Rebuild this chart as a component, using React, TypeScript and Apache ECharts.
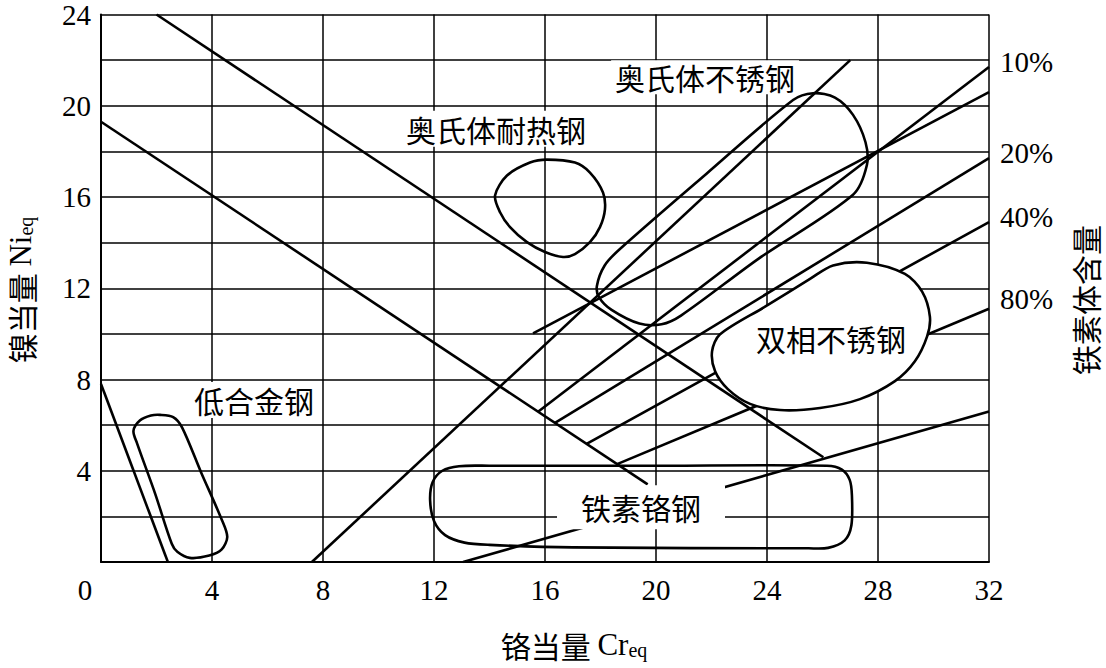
import React, { useEffect, useRef } from 'react';
import * as echarts from 'echarts';

// Axis ranges / ticks
const xMin = 0, xMax = 32, xStep = 4;
const yMin = 0, yMax = 24, yStep = 2;
const yLabelStep = 4;

// Boundary lines [Cr_eq, Ni_eq]
const lowAlloyLine = [[0, 7.8], [2.41, 0]];
const upperDiagonal = [[2, 24], [26.03, 4.59]];
const lowerDiagonal = [[0, 19.3], [19.7, 3.4]];
const ferrite0 = [[7.6, 0], [27, 22]];
const ferrite5 = [[15.57, 10.02], [32, 20.6]];
const ferrite10 = [[15.75, 6.59], [32, 21.7]];
const ferrite20 = [[16.36, 6.1], [32, 17.7]];
const ferrite40 = [[17.5, 5.18], [32, 14.9]];
const ferrite80 = [[18.6, 4.29], [32, 11.1]];
const ferrite100 = [[13.05, 0], [32, 6.6]];

const percentNames = ['10%', '20%', '40%', '80%'];

// Region outlines
const lowAlloyZone = [
  [2.13, 6.45], [2.6, 6.35], [2.92, 5.9], [3.6, 3.95], [4.36, 1.83], [4.55, 1.1], [4.35, 0.55],
  [3.9, 0.28], [3.2, 0.18], [2.75, 0.45], [2.55, 0.8], [1.95, 3.0], [1.3, 5.2], [1.17, 5.75],
  [1.4, 6.2], [1.8, 6.42],
];
const heatResistZone = [
  [14.2, 16.07], [14.63, 16.94], [15.46, 17.51], [16.07, 17.64], [17.08, 17.51], [17.62, 17.07],
  [18.09, 16.2], [18.16, 15.46], [17.98, 14.68], [17.62, 14.02], [17.08, 13.5], [16.65, 13.37],
  [16.0, 13.59], [15.35, 14.02], [14.74, 14.68], [14.38, 15.33],
];
const austeniticZone = [
  [17.87, 12.1], [18.15, 13.0], [18.7, 13.72], [21.8, 17.0], [24.94, 20.25], [25.66, 20.55],
  [26.45, 20.36], [27.1, 19.6], [27.55, 18.4], [27.6, 17.4], [27.1, 16.1], [23.7, 13.3],
  [20.9, 10.8], [20.2, 10.42], [19.4, 10.45], [18.4, 11.05], [17.95, 11.6],
];
const duplexZone = [
  [22.02, 9.23], [22.3, 9.97], [23.93, 11.19], [25.55, 12.41], [26.38, 13.0], [27.6, 13.12],
  [28.97, 12.63], [29.59, 11.85], [29.87, 10.76], [29.77, 9.89], [29.33, 8.8], [28.61, 7.93],
  [27.35, 7.14], [25.91, 6.75], [24.47, 6.66], [23.39, 6.93], [22.59, 7.58], [22.13, 8.36],
];
const ferriticZone = [
  [20, 4.22], [26.16, 4.22], [26.7, 4.05], [26.98, 3.6], [27.06, 2.92], [27.04, 1.6], [26.8, 0.95],
  [26.2, 0.62], [25.5, 0.6], [17.0, 0.64], [14.0, 0.75], [13.1, 0.85], [12.4, 1.18], [12.0, 1.8],
  [11.86, 2.7], [11.95, 3.5], [12.3, 4.0], [12.9, 4.2], [14, 4.22],
];

// Region labels
const regionNames = ['奥氏体耐热钢', '奥氏体不锈钢', '低合金钢', '双相不锈钢', '铁素铬钢'];
const regionX = [14.23, 21.77, 5.51, 26.31, 19.46];
const regionY = [18.99, 21.25, 7.1, 9.8, 2.4];

const SERIF = '"Liberation Serif", "Times New Roman", serif';
const CJK = '"Noto Sans CJK SC", sans-serif';
const LW = 2.6;

export default function App() {
  const ref = useRef<HTMLDivElement>(null);
  useEffect(() => {
    if (!ref.current) return;
    const chart = echarts.init(ref.current, undefined, { renderer: 'svg' });

    const line = (data: number[][], label?: string, offY = -5) => ({
      type: 'line',
      data,
      symbol: 'none',
      z: 2,
      silent: true,
      lineStyle: { color: '#000', width: LW },
      endLabel: label
        ? {
            show: true,
            formatter: () => label,
            distance: 11,
            offset: [0, offY],
            fontFamily: SERIF,
            fontSize: 29,
            color: '#000',
          }
        : { show: false },
    });

    const zone = (pts: number[][], fill: string, z: number) => ({
      type: 'custom',
      z,
      silent: true,
      data: [pts[0]],
      renderItem: (_p: any, api: any) => ({
        type: 'polygon',
        shape: { points: pts.map((q) => api.coord(q)), smooth: 0.3 },
        style: { fill, stroke: '#000', lineWidth: LW },
      }),
    });

    const pads: number[][] = [[3, 4], [2, 4], [3, 4], [3, 4], [7, 24]];
    const titleRich = {
      a: { fontFamily: CJK, fontSize: 30, lineHeight: 30, fill: '#000', verticalAlign: 'bottom' },
      b: { fontFamily: SERIF, fontSize: 31, lineHeight: 30, fill: '#000', verticalAlign: 'bottom' },
      c: { fontFamily: SERIF, fontSize: 20, lineHeight: 20, fill: '#000', verticalAlign: 'bottom' },
    };

    chart.setOption({
      animation: false,
      backgroundColor: '#fff',
      grid: { left: 101, right: 117, top: 11, bottom: 106, containLabel: false },
      xAxis: {
        type: 'value',
        min: xMin,
        max: xMax,
        interval: xStep,
        axisLine: { lineStyle: { color: '#000', width: 2 } },
        axisTick: { show: false },
        splitLine: { lineStyle: { color: '#000', width: 1.5 } },
        axisLabel: {
          color: '#000',
          fontFamily: SERIF,
          fontSize: 29,
          margin: 13,
          formatter: (v: number) => (v === 0 ? '{z|0}' : String(v)),
          rich: { z: { fontFamily: SERIF, fontSize: 29, color: '#000', padding: [0, 32, 0, 0] } },
        },
      },
      yAxis: {
        type: 'value',
        min: yMin,
        max: yMax,
        interval: yStep,
        axisLine: { lineStyle: { color: '#000', width: 2 } },
        axisTick: { show: false },
        splitLine: { lineStyle: { color: '#000', width: 1.5 } },
        axisLabel: {
          color: '#000',
          fontFamily: SERIF,
          fontSize: 29,
          margin: 10,
          formatter: (v: number) => (v !== 0 && v % yLabelStep === 0 ? String(v) : ''),
        },
      },
      graphic: [
        {
          type: 'text',
          x: 574,
          y: 645,
          style: {
            text: '{a|铬当量 }{b|Cr}{c|eq}',
            align: 'center',
            verticalAlign: 'middle',
            rich: titleRich,
          },
        },
        {
          type: 'text',
          x: 21,
          y: 290,
          rotation: Math.PI / 2,
          style: {
            text: '{a|镍当量 }{b|Ni}{c|eq}',
            align: 'center',
            verticalAlign: 'middle',
            rich: titleRich,
          },
        },
        {
          type: 'text',
          x: 1085,
          y: 300,
          rotation: Math.PI / 2,
          style: {
            text: '铁素体含量',
            fontFamily: CJK,
            fontSize: 30,
            lineHeight: 30,
            fill: '#000',
            align: 'center',
            verticalAlign: 'middle',
          },
        },
      ],
      series: [
        line(lowAlloyLine),
        line(upperDiagonal),
        line(lowerDiagonal),
        line(ferrite0),
        line(ferrite5),
        line(ferrite10, percentNames[0]),
        line(ferrite20, percentNames[1]),
        line(ferrite40, percentNames[2]),
        line(ferrite80, percentNames[3], -10),
        line(ferrite100),
        zone(lowAlloyZone, 'none', 3),
        zone(heatResistZone, 'none', 3),
        zone(austeniticZone, 'none', 3),
        zone(ferriticZone, 'none', 3),
        zone(duplexZone, '#fff', 4),
        {
          type: 'custom',
          z: 6,
          silent: true,
          data: regionNames.map((_n, i) => [regionX[i], regionY[i]]),
          renderItem: (params: any, api: any) => {
            const i = params.dataIndex;
            const p = api.coord([api.value(0), api.value(1)]);
            return {
              type: 'text',
              x: p[0],
              y: p[1],
              style: {
                text: regionNames[i],
                fontFamily: CJK,
                fontSize: 30,
                fill: '#000',
                align: 'center',
                verticalAlign: 'middle',
                backgroundColor: i === 3 ? 'transparent' : '#fff',
                padding: pads[i],
              },
            };
          },
        },
      ],
    });
    return () => chart.dispose();
  }, []);
  return (
    <div
      ref={ref}
      style={{ position: 'fixed', left: 0, top: 0, width: 1106, height: 668, background: '#fff' }}
    />
  );
}
